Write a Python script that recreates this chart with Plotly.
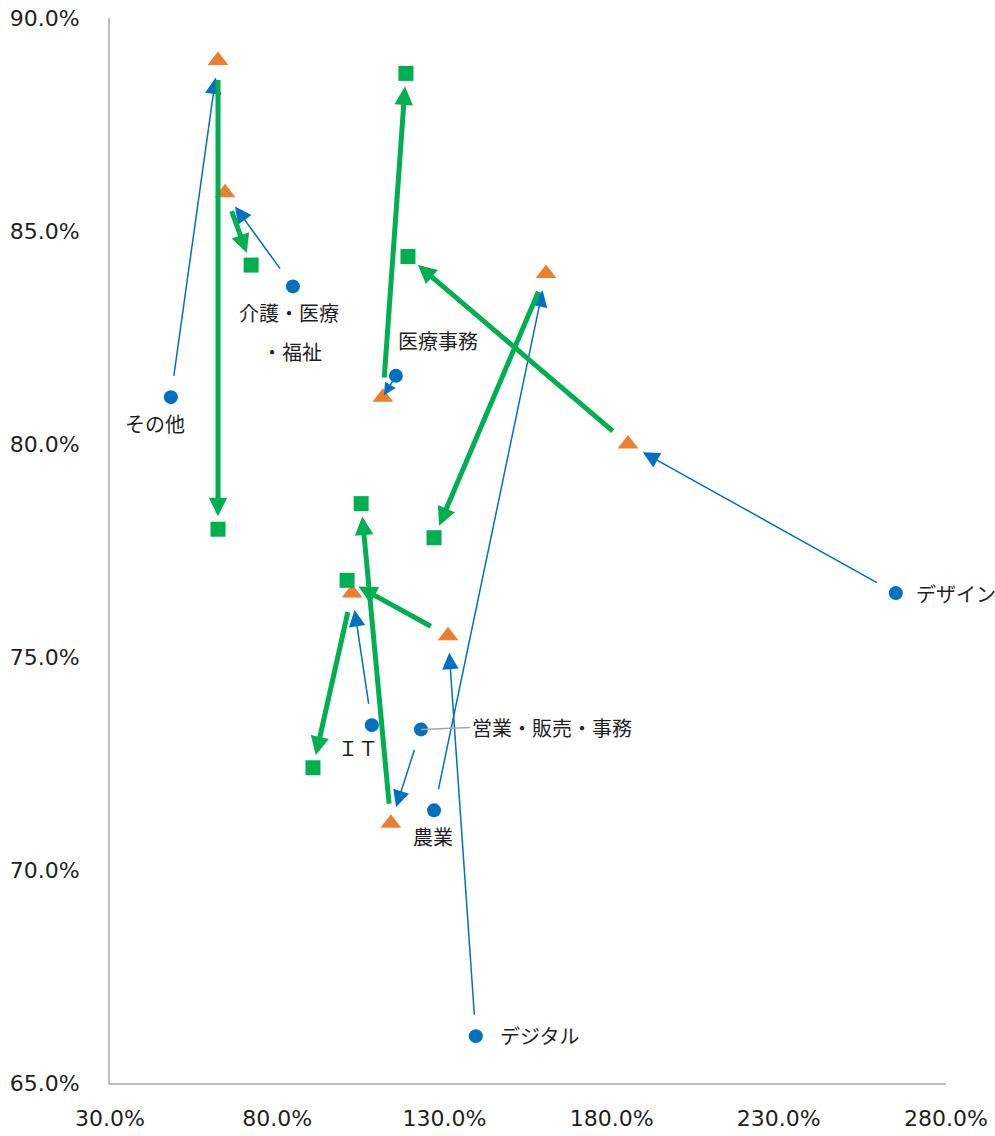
import math
import plotly.graph_objects as go

# Occupational categories and their positions in three successive periods (percent units)
categories = ["その他", "介護・医療・福祉", "医療事務", "デザイン", "農業", "デジタル", "ＩＴ", "営業・販売・事務"]

x_first = [48.2, 84.7, 115.5, 265.0, 126.9, 139.4, 108.3, 123.0]
y_first = [81.1, 83.7, 81.6, 76.5, 71.4, 66.1, 73.4, 73.3]

x_second = [62.3, 64.4, 111.6, 184.9, 160.4, 131.1, 102.4, 114.0]
y_second = [89.0, 85.9, 81.1, 80.0, 84.0, 75.5, 76.5, 71.1]

x_third = [62.3, 72.2, 118.5, 119.1, 126.9, 100.9, 90.7, 105.1]
y_third = [78.0, 84.2, 88.7, 84.4, 77.8, 76.8, 72.4, 78.6]

x_ticks = [30, 80, 130, 180, 230, 280]
y_ticks = [65, 70, 75, 80, 85, 90]

# ---- layout constants ----
W, H = 995, 1136
ML, MR, MT, MB = 110, 49, 18, 53
X_RANGE = (30, 280)
Y_RANGE = (65, 90)
px_x = (W - ML - MR) / (X_RANGE[1] - X_RANGE[0])
px_y = (H - MT - MB) / (Y_RANGE[1] - Y_RANGE[0])

BLUE = "#0070C0"
ORANGE = "#ED7D31"
GREEN = "#00B050"
TEXT = "#1F1F1F"
LABEL_FONT = dict(family="Noto Sans CJK JP", size=20, color=TEXT)

fig = go.Figure()

fig.add_trace(go.Scatter(x=x_first, y=y_first, mode="markers", name="1",
                         marker=dict(symbol="circle", size=14, color=BLUE),
                         hoverinfo="skip"))
fig.add_trace(go.Scatter(x=x_second, y=y_second, mode="markers", name="2",
                         marker=dict(symbol="triangle-up", size=18, color=ORANGE),
                         hoverinfo="skip"))
fig.add_trace(go.Scatter(x=x_third, y=y_third, mode="markers", name="3",
                         marker=dict(symbol="square", size=15, color=GREEN),
                         hoverinfo="skip"))


def arrow(x0, y0, x1, y1, color, width, size, start_off, end_off):
    d = math.hypot((x1 - x0) * px_x, (y1 - y0) * px_y)
    if d < 45:  # very short move: keep a small head close to the markers
        start_off, end_off, size = 5, 2, size * 0.75
    return dict(x=x1, y=y1, ax=x0, ay=y0, xref="x", yref="y", axref="x", ayref="y",
                text="", showarrow=True, arrowhead=2, arrowsize=size,
                arrowwidth=width, arrowcolor=color,
                startstandoff=start_off, standoff=end_off)


annotations = []
for i in range(len(categories)):
    annotations.append(arrow(x_first[i], y_first[i], x_second[i], y_second[i],
                             BLUE, 1.5, 2.2, 20, 17))
for i in range(len(categories)):
    annotations.append(arrow(x_second[i], y_second[i], x_third[i], y_third[i],
                             GREEN, 5, 0.74, 18, 13))

# label placement (pixel offsets from the first-period point)
label_style = {
    "その他": [("その他", -16, -26, "center")],
    "介護・医療・福祉": [("介護・医療", -4, -26, "center"), ("・福祉", -1, -65, "center")],
    "医療事務": [("医療事務", 42, 35, "center")],
    "デザイン": [("デザイン", 18, 0, "left")],
    "農業": [("農業", -1, -26, "center")],
    "デジタル": [("デジタル", 22, 1, "left")],
    "ＩＴ": [("ＩＴ", -14, -22, "center")],
}

for i, name in enumerate(categories):
    if name == "営業・販売・事務":
        annotations.append(dict(x=x_first[i], y=y_first[i], xref="x", yref="y",
                                text=name, showarrow=True, arrowhead=0,
                                arrowwidth=1.5, arrowcolor="#A6A6A6",
                                ax=49, ay=-2, xanchor="left", standoff=0,
                                font=LABEL_FONT))
        continue
    for txt, dx, dy, anchor in label_style[name]:
        annotations.append(dict(x=x_first[i], y=y_first[i], xref="x", yref="y",
                                text=txt, showarrow=False, xshift=dx, yshift=dy,
                                xanchor=anchor, font=LABEL_FONT))

axis_common = dict(showgrid=False, zeroline=False, showline=True,
                   linecolor="#BFBFBF", linewidth=2, ticks="", automargin=False,
                   tickfont=dict(family="DejaVu Sans", size=22, color=TEXT),
                   fixedrange=True)

fig.update_layout(
    width=W, height=H,
    margin=dict(l=ML, r=MR, t=MT, b=MB, pad=0),
    paper_bgcolor="white", plot_bgcolor="white",
    showlegend=False,
    xaxis=dict(range=list(X_RANGE), tickvals=x_ticks,
               ticktext=[f"{v:.1f}%" for v in x_ticks],
               ticklabelstandoff=15, **axis_common),
    yaxis=dict(range=list(Y_RANGE), tickvals=y_ticks,
               ticktext=[f"{v:.1f}%" for v in y_ticks],
               ticklabelstandoff=24, **axis_common),
    annotations=annotations,
)

fig.write_html("out.html")
